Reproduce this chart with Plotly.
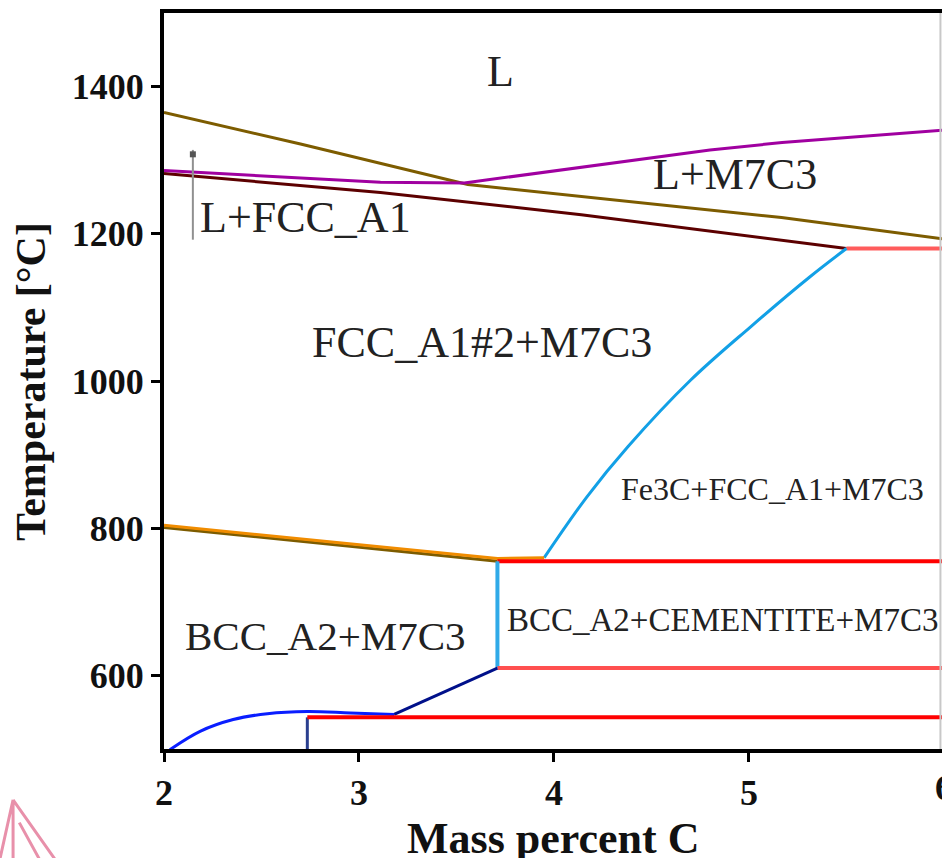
import plotly.graph_objects as go

# ---------------- data ----------------
olive_top_x = [2.0, 2.70, 3.558, 5.167, 6.0]
olive_top_t = [1365, 1322, 1267, 1222, 1193]

purple_x = [2.0, 3.11, 3.54, 4.14, 4.80, 5.17, 5.68, 6.0]
purple_t = [1286, 1270, 1269, 1290, 1314, 1324, 1335, 1341]

maroon_x = [2.0, 3.11, 4.14, 5.50]
maroon_t = [1282, 1256, 1226, 1180]

red_1180_x = [5.50, 6.0]
red_1180_t = [1180, 1180]

cyan_curve_x = [5.50, 5.31, 5.01, 4.70, 4.38, 4.17, 3.95]
cyan_curve_t = [1180, 1141, 1074, 1001, 911, 843, 760]

olive_low_x = [2.0, 3.71]
olive_low_t = [801, 755]
orange_low_x = [2.0, 3.71, 3.95]
orange_low_t = [804, 759, 760]

red_755_x = [3.71, 6.0]
red_755_t = [755, 755]

cyan_vert_x = [3.71, 3.71]
cyan_vert_t = [755, 610]

red_610_x = [3.71, 6.0]
red_610_t = [610, 610]

navy_x = [3.71, 3.18]
navy_t = [610, 547]

blue_arc_x = [2.03, 2.185, 2.355, 2.53, 2.735, 2.956, 3.18]
blue_arc_t = [499, 524, 540, 548, 551, 549, 547]

navy_vert_x = [2.735, 2.735]
navy_vert_t = [543, 499]

red_543_x = [2.735, 6.0]
red_543_t = [543, 543]

leader_x = [2.148, 2.148]
leader_t = [1314, 1192]

x_ticks = [2, 3, 4, 5]
y_ticks = [600, 800, 1000, 1200, 1400]

labels = ["L", "L+M7C3", "L+FCC_A1", "FCC_A1#2+M7C3", "BCC_A2+M7C3",
          "Fe3C+FCC_A1+M7C3", "BCC_A2+CEMENTITE+M7C3"]
labels_x = [3.727, 4.93, 2.725, 3.63, 2.828, 5.12, 4.864]
labels_t = [1420, 1280, 1222, 1052, 654, 853, 675]

# ---------------- styles ----------------
SERIF = "Liberation Serif"
label_sizes = [44, 44, 44, 44, 41, 32, 33]

fig = go.Figure()


def add_line(xs, ts, color, width=3, shape="linear"):
    fig.add_trace(go.Scatter(x=xs, y=ts, mode="lines",
                             line=dict(color=color, width=width, shape=shape),
                             showlegend=False, hoverinfo="skip"))


add_line(olive_top_x, olive_top_t, "#7d5c00")
add_line(maroon_x, maroon_t, "#5c0000")
add_line(purple_x, purple_t, "#a000a0")
add_line(red_1180_x, red_1180_t, "#ff5c5c", width=4)
add_line(cyan_curve_x, cyan_curve_t, "#12a0e6", shape="spline")
add_line(olive_low_x, olive_low_t, "#7d5c00", width=3)
add_line(orange_low_x, orange_low_t, "#f08c00", width=3)
add_line(red_755_x, red_755_t, "#ff0000", width=4)
add_line(cyan_vert_x, cyan_vert_t, "#30aae8", width=4)
add_line(red_610_x, red_610_t, "#ff5050", width=4)
add_line(navy_x, navy_t, "#00108a", width=3)
add_line(blue_arc_x, blue_arc_t, "#0a1eff", width=3, shape="spline")
add_line(navy_vert_x, navy_vert_t, "#2a3f8f", width=3)
add_line(red_543_x, red_543_t, "#ff0000", width=4)
add_line(leader_x, leader_t, "#909090", width=2)

# small dark head on the leader line
fig.add_trace(go.Scatter(x=[leader_x[0]], y=[leader_t[0] - 6], mode="markers",
                         marker=dict(color="#555555", size=6, symbol="square"),
                         showlegend=False, hoverinfo="skip"))

for txt, xx, tt, sz in zip(labels, labels_x, labels_t, label_sizes):
    fig.add_annotation(x=xx, y=tt, text=txt, showarrow=False,
                       xanchor="center", yanchor="middle",
                       font=dict(family=SERIF, size=sz, color="#222222"))

# axis titles
fig.add_annotation(xref="paper", yref="paper", x=0.5, y=-0.121,
                   text="Mass percent C", showarrow=False,
                   xanchor="center", yanchor="middle",
                   font=dict(family=SERIF, size=44, color="#111111", weight="bold"))
fig.add_annotation(xref="paper", yref="paper", x=-0.171, y=0.5,
                   text="Temperature [°C]", showarrow=False, textangle=-90,
                   xanchor="center", yanchor="middle",
                   font=dict(family=SERIF, size=42, color="#111111", weight="bold"))
# partially visible "6" tick label at the cropped right edge
fig.add_annotation(xref="paper", yref="paper", x=1.0025, y=-0.053,
                   text="6", showarrow=False, xanchor="center", yanchor="middle",
                   font=dict(family=SERIF, size=36, color="#111111", weight="bold"))

# light right edge line
fig.add_shape(type="line", xref="paper", yref="paper", x0=0.998, x1=0.998,
              y0=0, y1=1, line=dict(color="#c8c8c8", width=2))

# pink logo at the bottom left
fig.add_shape(type="path", xref="paper", yref="paper",
              path="M -0.194 -0.069 L -0.211 -0.150 M -0.194 -0.069 L -0.140 -0.150 "
                   "M -0.194 -0.069 L -0.194 -0.150 M -0.186 -0.100 L -0.160 -0.150",
              line=dict(color="#e890aa", width=3))

fig.update_xaxes(range=[2, 5.99], tickvals=x_ticks, ticktext=[str(v) for v in x_ticks],
                 showgrid=False, zeroline=False,
                 showline=True, linecolor="black", linewidth=4, mirror=True,
                 ticks="outside", ticklen=9, tickwidth=3, tickcolor="black",
                 tickfont=dict(family=SERIF, size=36, color="#111111", weight="bold"))
fig.update_yaxes(range=[500, 1500], tickvals=y_ticks, ticktext=[str(v) for v in y_ticks],
                 showgrid=False, zeroline=False,
                 showline=True, linecolor="black", linewidth=4, mirror=False,
                 ticks="outside", ticklen=9, tickwidth=3, tickcolor="black",
                 tickfont=dict(family=SERIF, size=36, color="#111111", weight="bold"))

fig.update_layout(width=942, height=858,
                  margin=dict(l=164, r=0, t=13, b=109),
                  plot_bgcolor="white", paper_bgcolor="white",
                  showlegend=False)

fig.write_html("out.html",
               config={"displayModeBar": False},
               post_script="document.body.style.margin='0';"
                           "document.body.style.overflow='hidden';")
